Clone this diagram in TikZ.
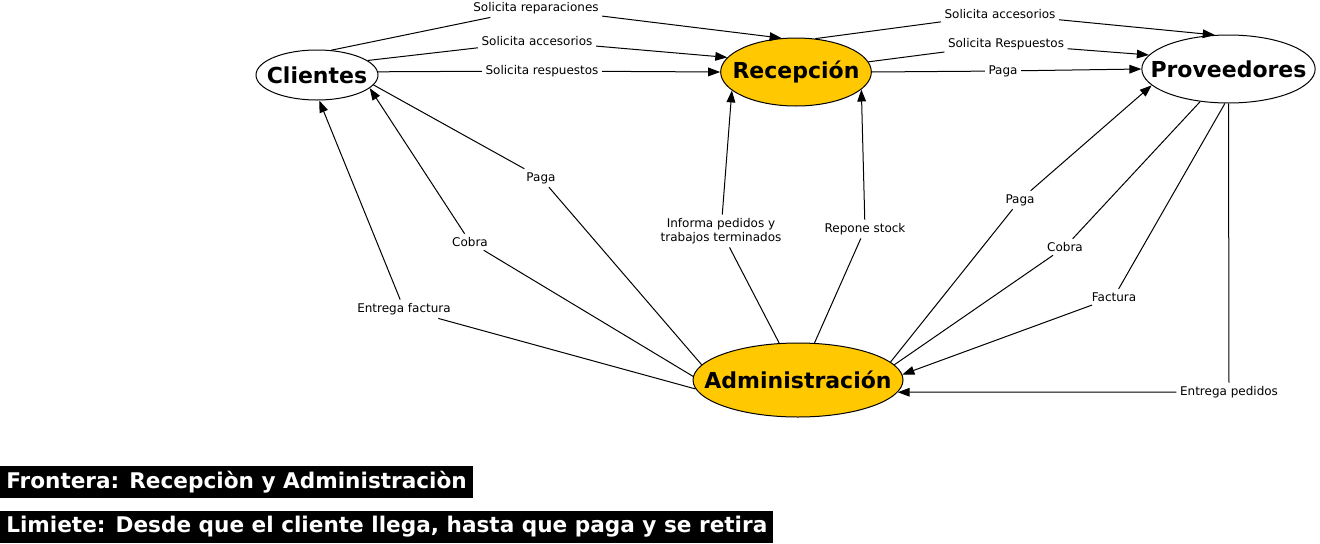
\documentclass[tikz,border=0pt]{standalone}
\usepackage{fontspec}
\setmainfont{DejaVu Sans}
\usetikzlibrary{arrows.meta,shapes.geometric}
\definecolor{Amber}{HTML}{FFC800}

\begin{document}
\begin{tikzpicture}[x=0.75pt, y=-0.75pt,
  ent/.style={ellipse, draw=black, fill=white, line width=0.75pt, inner sep=0pt},
  core/.style={ent, fill=Amber},
  nm/.style={font=\fontsize{16.5}{19}\selectfont\bfseries},
  lbl/.style={font=\fontsize{9}{10.5}\selectfont, inner sep=2.5pt, align=center},
  arr/.style={-{Triangle[length=9pt,width=6.5pt]}, line width=0.75pt},
  ln/.style={line width=0.75pt},
  tag/.style={fill=black, text=white, anchor=north west, inner xsep=4.5pt,
              minimum height=23.5pt, font=\fontsize{16.2}{19}\selectfont\bfseries}]
  \useasboundingbox (0,0) rectangle (1320,543);
  % entities
  \node[ent, minimum width=91.5pt, minimum height=37.5pt, label={[nm]center:Clientes}] (C) at (317,75) {};
  \node[core, minimum width=113pt, minimum height=51pt, label={[nm]center:Recepción}] (R) at (796,72) {};
  \node[ent, minimum width=130pt, minimum height=51pt, label={[nm]center:Proveedores}] (P) at (1228.5,69) {};
  \node[core, minimum width=157.5pt, minimum height=55.5pt, label={[nm]center:Administración}] (A) at (798,380) {};
  % labels
  \node[lbl] (l1) at (536,8) {Solicita reparaciones};
  \node[lbl] (l2) at (537,41) {Solicita accesorios};
  \node[lbl] (l3) at (542,71) {Solicita respuestos};
  \node[lbl] (l4) at (1000,14) {Solicita accesorios};
  \node[lbl] (l5) at (1006,44) {Solicita Respuestos};
  \node[lbl] (l6) at (1003,71) {Paga};
  \node[lbl] (l7) at (541,178) {Paga};
  \node[lbl] (l8) at (470,242) {Cobra};
  \node[lbl] (l9) at (404,309) {Entrega factura};
  \node[lbl] (l10) at (721,231) {Informa pedidos y\\trabajos terminados};
  \node[lbl] (l11) at (865,229) {Repone stock};
  \node[lbl] (l12) at (1020,200) {Paga};
  \node[lbl] (l13) at (1065,247) {Cobra};
  \node[lbl] (l14) at (1114,297) {Factura};
  \node[lbl] (l15) at (1229,392) {Entrega pedidos};
  % clientes -> recepcion
  \draw[arr] (C.60) -- (l1) -- (R.113);
  \draw[arr] (C.16) -- (l2) -- (R.168);
  \draw[arr] (C.3) -- (l3) -- (R.180);
  % recepcion -> proveedores
  \draw[arr] (R.60) -- (l4) -- (P.112);
  \draw[arr] (R.8) -- (l5) -- (P.170);
  \draw[arr] (R.0) -- (l6) -- (P.180);
  % administracion
  \draw[ln] (A.171) -- (l7) -- (C.-10);
  \draw[arr] (A.178) -- (l8) -- (C.-14);
  \draw[arr] (A.185) -- (l9) -- (C.-85);
  \draw[arr] (A.117) -- (l10) -- (R.196);
  \draw[arr] (A.66) -- (l11) -- (R.-15);
  \draw[arr] (A.11) -- (l12) -- (P.192);
  \draw[ln] (P.229) -- (l13) -- (A.9);
  \draw[arr] (P.264) -- (l14) -- (A.3);
  \draw[arr] (P.270) -- (l15) -- (A.-7);
  % notes
  \node[tag] (fr) at (0,466) {Frontera: Recepciòn y Administraciòn};
  \node[tag] (lm) at (0,511) {Limiete: Desde que el cliente llega, hasta que paga y se retira};
\end{tikzpicture}
\end{document}
